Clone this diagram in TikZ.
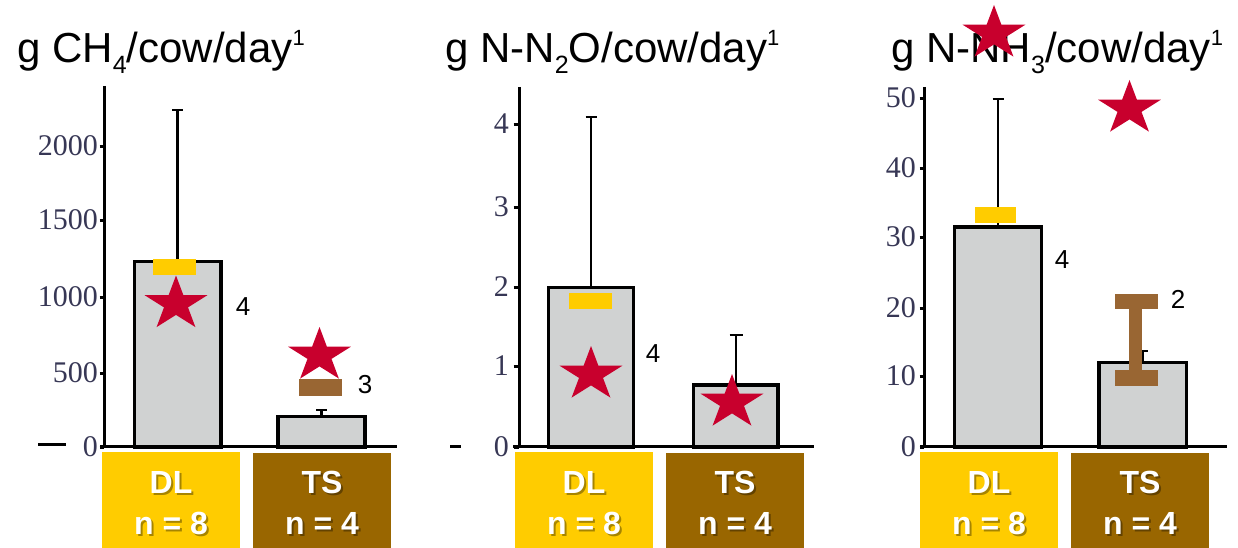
\documentclass[tikz,border=0pt]{standalone}
\usepackage{fontspec}
\setmainfont{Liberation Sans}
\newfontfamily\tickfont{Liberation Serif}
\definecolor{gold}{RGB}{255,204,0}
\definecolor{boxbrown}{RGB}{153,102,0}
\definecolor{markbrown}{RGB}{153,102,51}
\definecolor{starred}{RGB}{200,0,45}
\definecolor{bargray}{RGB}{208,210,210}
\definecolor{ticktext}{RGB}{55,55,85}
\newcommand{\subx}[1]{\raisebox{-11pt}{\fontsize{25}{25}\selectfont #1}}
\newcommand{\supx}[1]{\raisebox{17pt}{\fontsize{22}{22}\selectfont #1}}
\tikzset{
  redstar/.pic={\fill[starred] (0,-28.5) -- (7.4,-8.8) -- (31.4,-8.8) -- (12,3.4) -- (19.4,23.1) -- (0,10.9) -- (-19.4,23.1) -- (-12,3.4) -- (-31.4,-8.8) -- (-7.4,-8.8) -- cycle;}
}
\begin{document}
\begin{tikzpicture}[x=1pt,y=-1pt,
  axisline/.style={line width=3.2pt},
  tickline/.style={line width=3pt},
  barbox/.style={draw=black, fill=bargray, line width=3.2pt},
  errbar/.style={line width=2.6pt},
  ticklabel/.style={anchor=base east, inner sep=0pt, text=ticktext, font=\tickfont\fontsize{30}{30}\selectfont},
  charttitle/.style={anchor=base west, inner sep=0pt, font=\fontsize{42}{42}\selectfont},
  numlabel/.style={inner sep=0pt, font=\fontsize{26}{26}\selectfont},
  grplabel/.style={inner sep=0pt, text=white, font=\bfseries\fontsize{32}{32}\selectfont},
  grpshadow/.style={inner sep=0pt, text=black, opacity=0.35, font=\bfseries\fontsize{32}{32}\selectfont},
]
\useasboundingbox (0,0) rectangle (1238,548);

% ---------- titles ----------
\node[charttitle] (t1) at (17,63) {g CH\subx{4}/cow/day\supx{1}};
\node[charttitle] (t2) at (445,63) {g N-N\subx{2}O/cow/day\supx{1}};
\node[charttitle] (t3) at (891,63) {g N-NH\subx{3}/cow/day\supx{1}};

% ---------- panel 1 ----------
\draw[barbox] (134.5,447) rectangle (221,261.5);
\draw[barbox] (278,447) rectangle (365,416.5);
\draw[errbar] (177.7,261.5) -- (177.7,110) (172,110) -- (183,110);
\draw[errbar] (321.5,416.5) -- (321.5,410) (316,410) -- (327,410);
\fill[gold] (153,259) rectangle (196,275);
\fill[markbrown] (299,379) rectangle (342,396);
\pic at (176,304) {redstar};
\pic at (319.5,355.5) {redstar};
\node[numlabel] (n1a) at (243,307) {4};
\node[numlabel] (n1b) at (365,385) {3};
\draw[axisline] (104.3,86) -- (104.3,446.7);
\draw[axisline] (100,446.7) -- (397,446.7);
\foreach \yy/\lab in {447/0,373/500,297/1000,220/1500,147/2000}{
  \draw[tickline] (99.5,\yy) -- (104.3,\yy);
  \node[ticklabel] at (98,\yy+9) {\lab};
}
\draw[tickline] (38,444) -- (66,444);

% ---------- panel 2 ----------
\draw[barbox] (548.7,447) rectangle (633.3,287.7);
\draw[barbox] (693.7,447) rectangle (778,385);
\draw[errbar] (591,287.7) -- (591,117) (585.5,117) -- (596.5,117);
\draw[errbar] (736,385) -- (736,335) (729.5,335) -- (742.5,335);
\fill[gold] (569,293) rectangle (612,309);
\pic at (591,374.5) {redstar};
\pic at (732,402.5) {redstar};
\node[numlabel] (n2a) at (653,354) {4};
\draw[axisline] (519.3,87) -- (519.3,446.7);
\draw[axisline] (513,446.7) -- (814,446.7);
\foreach \yy/\lab in {447/0,366/1,287/2,207/3,125/4}{
  \draw[tickline] (513.5,\yy) -- (519.3,\yy);
  \node[ticklabel] at (509,\yy+9) {\lab};
}
\draw[tickline] (450,446) -- (461,446);

% ---------- panel 3 ----------
\draw[barbox] (954.3,447) rectangle (1041.7,227);
\draw[barbox] (1099,447) rectangle (1186.7,362.7);
\draw[errbar] (998,227) -- (998,99) (992.5,99) -- (1003.5,99);
\draw[errbar] (1143,362.7) -- (1143,351) (1138,351) -- (1148,351);
\fill[gold] (975,207) rectangle (1016,223);
\fill[markbrown] (1115,294) rectangle (1158,309);
\fill[markbrown] (1129,308) rectangle (1142,371);
\fill[markbrown] (1115,370) rectangle (1158,386);
\pic at (994,33.5) {redstar};
\pic at (1129.5,108.5) {redstar};
\node[numlabel] (n3a) at (1062,260) {4};
\node[numlabel] (n3b) at (1178,299) {2};
\draw[axisline] (924.3,87) -- (924.3,446.7);
\draw[axisline] (920,446.7) -- (1227,446.7);
\foreach \yy/\lab in {447/0,376/10,308/20,237/30,169/40,99/50}{
  \draw[tickline] (919.5,\yy) -- (924.3,\yy);
  \node[ticklabel] at (916,\yy+9) {\lab};
}

% ---------- group boxes ----------
\foreach \nm/\xa/\xb/\ya/\col/\ga/\gb in {
  b1/102/240/452/gold/DL/n = 8,
  b2/253/391/453/boxbrown/TS/n = 4,
  b3/515/653/452/gold/DL/n = 8,
  b4/666/804/453/boxbrown/TS/n = 4,
  b5/920/1058/452/gold/DL/n = 8,
  b6/1071/1209/453/boxbrown/TS/n = 4}{
  \fill[\col] (\xa,\ya) rectangle (\xb,548);
  \node[grpshadow] at ({(\xa+\xb)/2+2},484) {\ga};
  \node[grplabel] (\nm a) at ({(\xa+\xb)/2},482) {\ga};
  \node[grpshadow] at ({(\xa+\xb)/2+2},525) {\gb};
  \node[grplabel] (\nm b) at ({(\xa+\xb)/2},523) {\gb};
}
\end{tikzpicture}
\end{document}
